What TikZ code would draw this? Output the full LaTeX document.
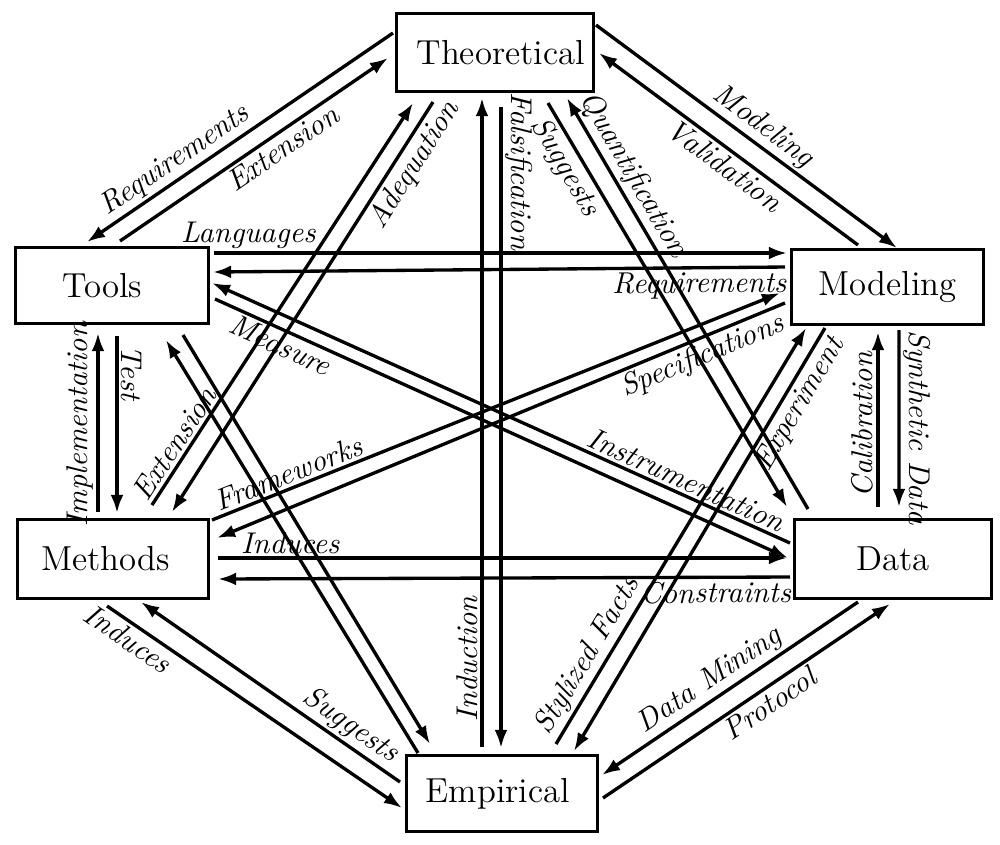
\documentclass[tikz,border=0pt]{standalone}
\usetikzlibrary{arrows.meta}
\begin{document}
\begin{tikzpicture}[x=0.36pt,y=-0.36pt,
  box/.style={draw, line width=1.4pt, inner sep=0pt, outer sep=0pt, font=\fontsize{12.5}{15}\selectfont},
  arr/.style={-{Latex[length=6.5pt,width=4.6pt]}, line width=1.2pt},
  lab/.style={font=\fontsize{10.8}{13}\selectfont\itshape, sloped, inner sep=1pt}]
\useasboundingbox (0,0) rectangle (1000,844);
% nodes
\node[box, minimum width=197*0.36pt, minimum height=78*0.36pt] (T) at (495,52.5) {\hspace*{4pt}Theoretical};
\node[box, minimum width=193*0.36pt, minimum height=76*0.36pt] (Tl) at (112,285.5) {Tools\hspace*{7pt}};
\node[box, minimum width=192*0.36pt, minimum height=75*0.36pt] (Mo) at (887.5,287) {Modeling};
\node[box, minimum width=191*0.36pt, minimum height=79*0.36pt] (Me) at (113,559) {Methods\hspace*{5.5pt}};
\node[box, minimum width=197*0.36pt, minimum height=79*0.36pt] (D) at (893,559) {Data};
\node[box, minimum width=191*0.36pt, minimum height=76*0.36pt] (E) at (502,793.5) {Empirical\hspace*{3pt}};
% Theoretical -- Tools
\draw[arr] ([shift={(-102,-19.5)}]T.center) -- ([shift={(-25,-43.5)}]Tl.center) node[lab,pos=0.68,above]{Requirements};
\draw[arr] ([shift={(8,-44.5)}]Tl.center) -- ([shift={(-107,5.5)}]T.center) node[lab,pos=0.575,below]{Extension};
% Theoretical -- Modeling
\draw[arr] ([shift={(101,-27.5)}]T.center) -- ([shift={(9.5,-39)}]Mo.center) node[lab,pos=0.52,above]{Modeling};
\draw[arr] ([shift={(-29.5,-42)}]Mo.center) -- ([shift={(104,0.5)}]T.center) node[lab,pos=0.48,below]{Validation};
% Theoretical -- Empirical
\draw[arr] ([shift={(-20,-46.5)}]E.center) -- ([shift={(-13,45.5)}]T.center) node[lab,pos=0.136,above]{Induction};
\draw[arr] ([shift={(6,54.5)}]T.center) -- ([shift={(-1,-45.5)}]E.center) node[lab,pos=0.10,above]{Falsification};
% Theoretical -- Data
\draw[arr] ([shift={(53,50.5)}]T.center) -- ([shift={(-106,-52)}]D.center) node[lab,pos=0.136,below]{Suggests};
\draw[arr] ([shift={(-85,-50)}]D.center) -- ([shift={(72,45.5)}]T.center) node[lab,pos=0.79,above]{Quantification};
% Theoretical -- Methods
\draw[arr] ([shift={(39,-54)}]Me.center) -- ([shift={(-82,50.5)}]T.center) node[lab,pos=0.133,above]{Extension};
\draw[arr] ([shift={(-62,49.5)}]T.center) -- ([shift={(59,-47)}]Me.center) node[lab,pos=0.13,below]{Adequation};
% Tools -- Modeling
\draw[arr] ([shift={(102,-32.5)}]Tl.center) -- ([shift={(-100.5,-34)}]Mo.center) node[lab,pos=0.06,above]{Languages};
\draw[arr] ([shift={(-102.5,-20)}]Mo.center) -- ([shift={(101,-13.5)}]Tl.center) node[lab,pos=0.15,below]{Requirements};
% Tools -- Data
\draw[arr] ([shift={(103,13.5)}]Tl.center) -- ([shift={(-105,-1)}]D.center) node[lab,pos=0.125,below]{Measure};
\draw[arr] ([shift={(-103,-16)}]D.center) -- ([shift={(100,-2.5)}]Tl.center) node[lab,pos=0.19,above]{Instrumentation};
% Tools -- Empirical
\draw[arr] ([shift={(71,49.5)}]Tl.center) -- ([shift={(-72,-49.5)}]E.center);
\draw[arr] ([shift={(-84,-40.5)}]E.center) -- ([shift={(54,54.5)}]Tl.center);
% Tools -- Methods
\draw[arr] ([shift={(5,50.5)}]Tl.center) -- ([shift={(4,-46)}]Me.center) node[lab,pos=0.21,above]{Test};
\draw[arr] ([shift={(-15,-47)}]Me.center) -- ([shift={(-14,47.5)}]Tl.center) node[lab,pos=0.49,above]{Implementation};
% Methods -- Modeling
\draw[arr] ([shift={(99,-39)}]Me.center) -- ([shift={(-107.5,6)}]Mo.center) node[lab,pos=0.144,above]{Frameworks};
\draw[arr] ([shift={(-102.5,16)}]Mo.center) -- ([shift={(104,-21)}]Me.center) node[lab,pos=0.157,below]{Specifications};
% Empirical -- Modeling
\draw[arr] ([shift={(54,-49.5)}]E.center) -- ([shift={(-81.5,41)}]Mo.center) node[lab,pos=0.19,above]{Stylized Facts};
\draw[arr] ([shift={(-62.5,41)}]Mo.center) -- ([shift={(72,-42.5)}]E.center) node[lab,pos=0.16,below]{Experiment};
% Data -- Modeling
\draw[arr] ([shift={(-15,-52)}]D.center) -- ([shift={(-9.5,45)}]Mo.center) node[lab,pos=0.47,above]{Calibration};
\draw[arr] ([shift={(11.5,43)}]Mo.center) -- ([shift={(6,-52)}]D.center) node[lab,pos=0.55,above]{Synthetic Data};
% Methods -- Data
\draw[arr] ([shift={(105,-1)}]Me.center) -- ([shift={(-106,-1)}]D.center) node[lab,pos=0.127,above]{Induces};
\draw[arr] ([shift={(-103,18)}]D.center) -- ([shift={(105,20)}]Me.center) node[lab,pos=0.13,below]{Constraints};
% Methods -- Empirical
\draw[arr] ([shift={(-6,47)}]Me.center) -- ([shift={(-100,14.5)}]E.center) node[lab,pos=0.10,below]{Induces};
\draw[arr] ([shift={(-102,-11.5)}]E.center) -- ([shift={(28,43)}]Me.center) node[lab,pos=0.23,above]{Suggests};
% Data -- Empirical
\draw[arr] ([shift={(-35,43)}]D.center) -- ([shift={(100,-18.5)}]E.center) node[lab,pos=0.54,above]{Data Mining};
\draw[arr] ([shift={(101,4.5)}]E.center) -- ([shift={(-3,45)}]D.center) node[lab,pos=0.55,below]{Protocol};
\end{tikzpicture}
\end{document}
